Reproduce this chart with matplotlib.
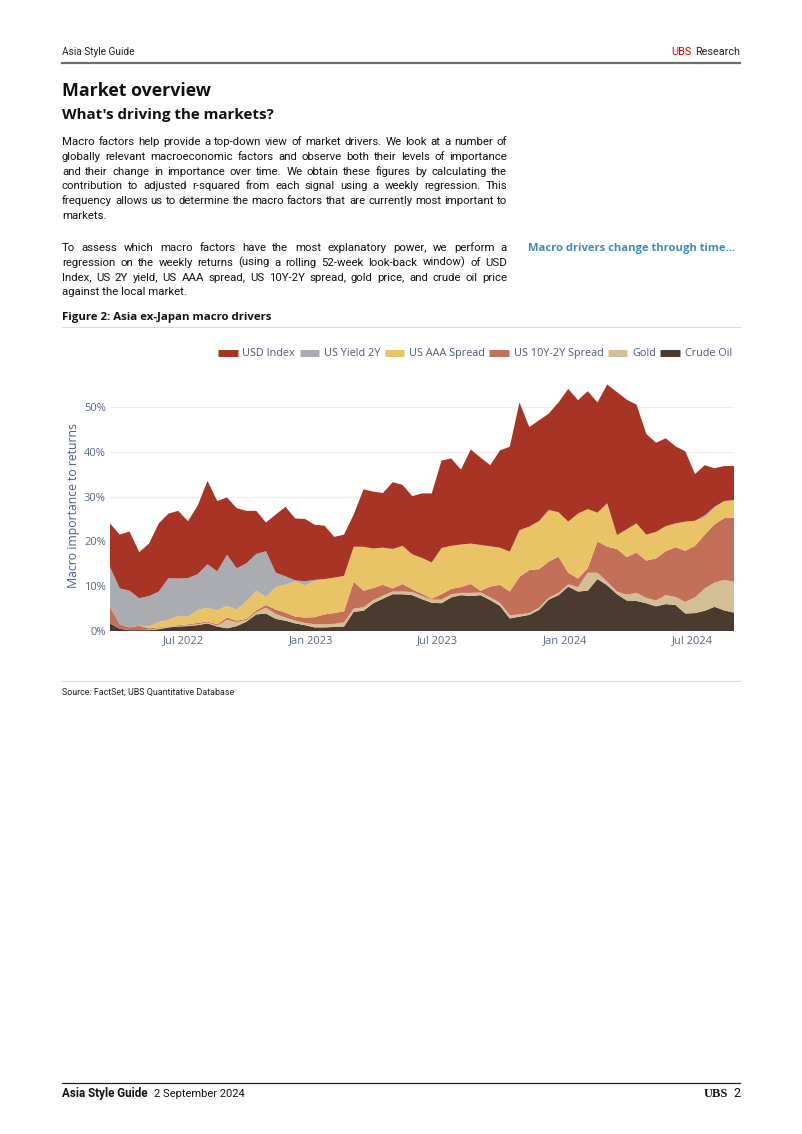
import numpy as np
import pandas as pd
import matplotlib
matplotlib.use("Agg")
import matplotlib.pyplot as plt
import matplotlib.dates as mdates
from matplotlib.lines import Line2D
from matplotlib.ticker import FuncFormatter

plt.rcParams['font.family'] = ['Open Sans', 'DejaVu Sans']

# fortnightly readings, 18 Mar 2022 - 30 Aug 2024 (% of adjusted r-squared)
dates = pd.date_range("2022-03-18", periods=65, freq="14D")

crude_oil = [1.7, 0.5, 0.2, 0.2, 0.2, 0.4, 0.8, 1.0, 1.1, 1.3, 1.7, 1.0, 0.6, 1.1, 2.1, 3.7,
             3.9, 2.7, 2.3, 1.7, 1.3, 0.8, 0.8, 0.9, 1.0, 4.3, 4.5, 6.2, 7.2, 8.2, 8.2, 8.0,
             7.1, 6.3, 6.2, 7.5, 8.0, 7.8, 8.0, 6.9, 5.6, 2.8, 3.2, 3.6, 4.7, 7.0, 8.0, 9.9,
             8.8, 9.0, 11.6, 10.2, 8.2, 6.8, 6.7, 6.2, 5.5, 6.0, 5.8, 3.9, 4.0, 4.5, 5.4, 4.6, 4.1]
gold = [0.0, 0.0, 0.0, 0.0, 0.1, 0.2, 0.2, 0.1, 0.2, 0.2, 0.2, 0.2, 1.9, 0.9, 0.3, 0.5,
        1.3, 1.1, 0.7, 0.6, 0.5, 0.7, 0.7, 0.7, 0.9, 0.7, 0.8, 0.7, 0.7, 0.6, 0.6, 0.7,
        0.7, 0.7, 0.8, 0.7, 0.5, 0.7, 0.6, 0.6, 0.7, 0.7, 0.5, 0.4, 0.5, 0.4, 0.5, 0.5,
        1.0, 4.0, 1.4, 0.8, 0.6, 1.3, 1.8, 1.2, 1.3, 2.0, 1.8, 2.6, 3.5, 5.0, 5.4, 6.8, 6.9]
us_10y2y = [3.7, 1.0, 0.6, 1.0, 0.3, 0.2, 0.1, 0.2, 0.2, 0.3, 0.2, 0.3, 0.5, 0.3, 0.3, 0.4,
            0.6, 1.0, 1.1, 0.9, 1.2, 1.6, 2.2, 2.4, 2.5, 6.0, 3.7, 2.7, 2.4, 0.7, 1.7, 0.6,
            0.5, 0.2, 1.2, 1.2, 1.3, 2.0, 0.4, 2.4, 4.0, 5.3, 8.4, 9.6, 8.6, 8.1, 8.1, 2.6,
            1.9, 1.0, 7.0, 7.8, 9.5, 8.4, 9.0, 8.3, 9.4, 9.8, 11.1, 11.4, 11.5, 12.0, 13.0, 13.8, 14.3]
us_aaa = [0.0, 0.0, 0.0, 0.0, 0.4, 1.2, 1.4, 2.1, 1.7, 2.9, 3.1, 3.1, 2.6, 2.5, 3.9, 4.4,
          1.8, 5.0, 6.2, 7.9, 7.2, 8.1, 7.9, 7.9, 7.9, 7.8, 9.8, 8.8, 8.3, 8.8, 8.5, 7.8,
          8.0, 8.1, 10.3, 9.6, 9.5, 9.0, 10.2, 9.0, 8.3, 8.9, 10.4, 9.7, 10.7, 11.5, 9.9, 11.4,
          14.5, 13.2, 6.4, 9.7, 3.1, 6.2, 6.5, 5.8, 5.9, 5.6, 5.3, 6.5, 5.6, 3.8, 3.7, 3.8, 3.9]
us_yield_2y = [8.9, 8.0, 8.2, 6.1, 6.8, 6.8, 9.3, 8.3, 8.6, 8.0, 9.7, 8.7, 11.4, 9.2, 8.5, 8.2,
               10.2, 3.2, 1.9, 0.2, 0.9, 0.2, 0.0, 0.0, 0.0, 0.0, 0.0, 0.0, 0.0, 0.0, 0.0, 0.0,
               0.0, 0.0, 0.0, 0.0, 0.0, 0.0, 0.0, 0.0, 0.0, 0.0, 0.0, 0.0, 0.0, 0.0, 0.0, 0.0,
               0.0, 0.0, 0.0, 0.0, 0.0, 0.0, 0.0, 0.0, 0.0, 0.0, 0.0, 0.0, 0.0, 0.5, 0.2, 0.0, 0.0]
usd_index = [9.7, 12.0, 13.2, 10.3, 11.7, 15.2, 14.4, 15.1, 12.7, 15.3, 18.6, 15.7, 12.8, 13.4, 11.7, 9.6,
             6.4, 13.0, 15.5, 13.8, 13.9, 12.3, 11.9, 9.1, 9.2, 7.2, 12.8, 12.7, 12.2, 14.9, 13.6, 13.0,
             14.4, 15.4, 19.5, 19.5, 16.7, 21.0, 19.5, 18.1, 21.7, 23.4, 28.5, 22.2, 22.5, 21.5, 24.5, 29.6,
             25.3, 26.3, 24.6, 26.5, 31.9, 28.9, 26.5, 22.5, 19.9, 19.6, 17.2, 15.7, 10.4, 11.2, 8.6, 7.8, 7.6]

series = ["USD Index", "US Yield 2Y", "US AAA Spread", "US 10Y-2Y Spread", "Gold", "Crude Oil"]
colors = ["#a83426", "#aaacb2", "#e8c466", "#c47058", "#d4be96", "#4a3a30"]

para1 = [
    "Macro factors help provide a top-down view of market drivers. We look at a number of",
    "globally relevant macroeconomic factors and observe both their levels of importance",
    "and their change in importance over time. We obtain these figures by calculating the",
    "contribution to adjusted r-squared from each signal using a weekly regression. This",
    "frequency allows us to determine the macro factors that are currently most important to",
    "markets.",
]
para2 = [
    "To assess which macro factors have the most explanatory power, we perform a",
    "regression on the weekly returns (using a rolling 52-week look-back window) of USD",
    "Index, US 2Y yield, US AAA spread, US 10Y-2Y spread, gold price, and crude oil price",
    "against the local market.",
]

W, H = 802, 1134
fig = plt.figure(figsize=(W / 100, H / 100), dpi=100)
renderer = fig.canvas.get_renderer()
BODY = ["Roboto", "DejaVu Sans"]


def fx(px):
    return px / W


def fy(py):
    return 1 - py / H


def hline(y, x0=62, x1=740, color="#777777", lw=1.0):
    fig.add_artist(Line2D([fx(x0), fx(x1)], [fy(y), fy(y)], color=color, lw=lw))


def width_of(t):
    return t.get_window_extent(renderer).width


def fit_text(x, y, s, width, ha="left", **kw):
    # size the text so that it spans the width seen in the page
    t = fig.text(fx(x), fy(y), s, fontsize=10, ha=ha, va="baseline", **kw)
    t.set_fontsize(10 * width / width_of(t))
    return t


def paragraph(lines, y0, size, dy=14.8, x0=62, x1=507):
    for i, line in enumerate(lines):
        y = fy(y0 + i * dy)
        if i == len(lines) - 1:
            fig.text(fx(x0), y, line, fontsize=size, color="#111111", va="baseline", family=BODY)
            continue
        words = line.split()
        texts = [fig.text(0, y, w, fontsize=size, color="#111111", va="baseline", family=BODY)
                 for w in words]
        widths = [width_of(t) for t in texts]
        gap = (x1 - x0 - sum(widths)) / (len(words) - 1)
        x = x0
        for t, w in zip(texts, widths):
            t.set_x(fx(x))
            x += w + gap


# body size: longest line must fit the 445 px column with ordinary spaces
probe = fig.text(0, 0, "", fontsize=10, family=BODY)
longest = 0
for line in para1 + para2:
    probe.set_text(line)
    longest = max(longest, width_of(probe))
probe.remove()
body_size = 10 * 444 / longest

# header
fit_text(62, 55, "Asia Style Guide", 73, color="#222222", family=BODY)
r = fit_text(740, 55, "Research", 45, ha="right", color="#222222", family=BODY)
fig.text(fx(740 - 45 - 3), fy(55), "UBS", fontsize=r.get_fontsize(), color="#e60000",
         ha="right", va="baseline", family=BODY)
hline(63, color="#6e6e6e", lw=1.6)

fit_text(62, 96, "Market overview", 150, weight="bold", color="#111111")
fit_text(62, 119, "What's driving the markets?", 213, weight="bold", color="#111111")

paragraph(para1, 145, body_size)
paragraph(para2, 251, body_size)

fit_text(528, 251, "Macro drivers change through time...", 209, weight="bold", color="#3d8eb0")
fit_text(62, 320, "Figure 2: Asia ex-Japan macro drivers", 208, weight="bold", color="#111111")
hline(327, color="#dddddd", lw=0.8)

# chart
ax = fig.add_axes([fx(110), fy(631), fx(734) - fx(110), (631 - 380) / H])
ax.stackplot(dates, crude_oil, gold, us_10y2y, us_aaa, us_yield_2y, usd_index,
             colors=colors[::-1], linewidth=0)
ax.set_xlim(dates[0], dates[-1])
ax.set_ylim(0, 56)
ax.set_yticks(range(0, 60, 10))
ax.yaxis.set_major_formatter(FuncFormatter(lambda v, p: f"{int(v)}%"))
ax.xaxis.set_major_locator(mdates.MonthLocator(bymonth=[1, 7]))
ax.xaxis.set_major_formatter(mdates.DateFormatter("%b %Y"))
ax.grid(axis="y", color="#eeeeee", lw=0.8)
ax.set_axisbelow(True)
for s in ax.spines.values():
    s.set_visible(False)
ax.tick_params(length=0, labelsize=8, labelcolor="#5a6885", pad=3)
ax.set_ylabel("Macro importance to returns", fontsize=8.8, color="#4a5f8a", labelpad=3)

handles = [Line2D([], [], color=c, lw=5, solid_capstyle="butt") for c in colors]
fig.legend(handles, series, loc="center", bbox_to_anchor=(fx(475), fy(354)), ncol=6,
           frameon=False, fontsize=7.8, labelcolor="#4d5b75", handlelength=1.8,
           handletextpad=0.45, columnspacing=0.4)

hline(681, color="#dddddd", lw=0.8)
fit_text(62, 695, "Source: FactSet, UBS Quantitative Database", 172, color="#222222", family=BODY)

# footer
hline(1083, color="#222222", lw=0.9)
fit_text(62, 1097, "Asia Style Guide", 86, weight="bold", color="#111111", family=BODY)
fit_text(154, 1097, "2 September 2024", 91, color="#111111", family=BODY)
fig.text(fx(740), fy(1097), "2", fontsize=9, color="#111111", ha="right", va="baseline", family=BODY)
fig.text(fx(728), fy(1097), "UBS", fontsize=9, weight="bold", color="#111111", ha="right",
         va="baseline", family=["Liberation Serif", "DejaVu Serif"])

fig.savefig("out.png", dpi=100)
